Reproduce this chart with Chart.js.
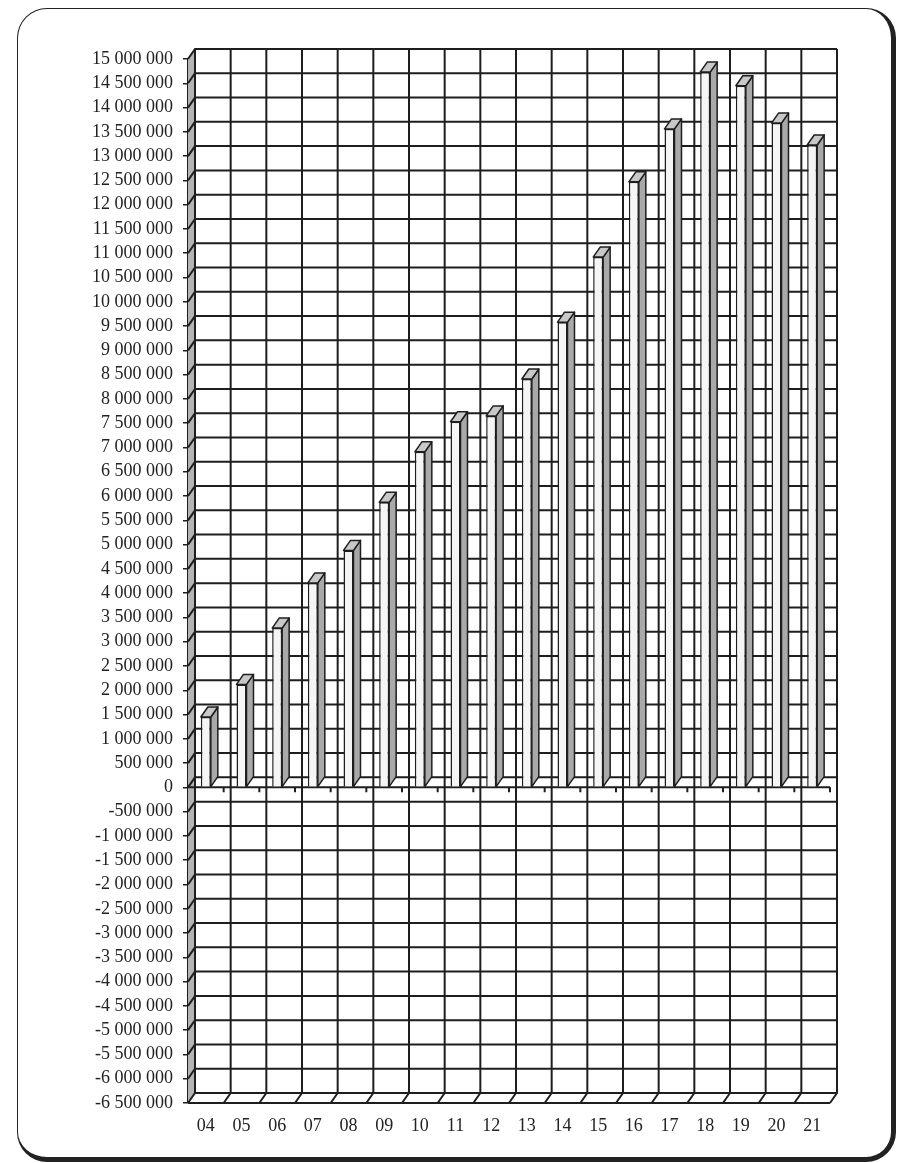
<!DOCTYPE html>
<html>
<head>
<meta charset="utf-8">
<script src="https://cdn.jsdelivr.net/npm/chart.js@4"></script>
<style>
  body { margin: 0; background: #fff; }
  #frame {
    position: absolute; left: 17px; top: 8px; width: 879px; height: 1154px;
    box-sizing: border-box; border: 1px solid #222; border-right-width: 5px; border-bottom-width: 5px;
    border-radius: 30px;
  }
  #chart { position: absolute; left: 0; top: 0; }
</style>
</head>
<body>
<div id="frame"></div>
<canvas id="chart" width="906" height="1163"></canvas>
<script>
const years = ['04', '05', '06', '07', '08', '09', '10', '11', '12', '13', '14', '15', '16', '17', '18', '19', '20', '21'];
const values = [1450000, 2120000, 3280000, 4210000, 4880000, 5870000, 6910000, 7530000, 7650000,
                8410000, 9580000, 10920000, 12470000, 13560000, 14730000, 14450000, 13680000, 13230000];
const yMin = -6500000;
const yMax = 15000000;
const yStep = 500000;

// depth of the fake 3d box
const dx = 7, dy = -10;
const lineCol = '#1e1e1e';

function fmt(v) {
    return String(v).replace(/\B(?=(\d{3})+(?!\d))/g, ' ');
}

const box3d = {
    id: 'box3d',
    beforeDatasetsDraw(chart) {
        const { ctx, chartArea: a, scales: { x, y } } = chart;
        const L = a.left, R = a.right, T = a.top, B = a.bottom;
        ctx.save();
        // left wall
        ctx.fillStyle = '#b4b4b4';
        ctx.beginPath();
        ctx.moveTo(L, T); ctx.lineTo(L + dx, T + dy); ctx.lineTo(L + dx, B + dy); ctx.lineTo(L, B);
        ctx.closePath(); ctx.fill();

        ctx.strokeStyle = lineCol;
        ctx.lineWidth = 2;
        ctx.beginPath();
        // horizontal grid on back wall + diagonals on left wall
        for (let v = yMin; v <= yMax; v += yStep) {
            const py = y.getPixelForValue(v);
            ctx.moveTo(L, py); ctx.lineTo(L + dx, py + dy); ctx.lineTo(R + dx, py + dy);
        }
        // vertical grid on back wall + floor diagonals
        for (let i = 0; i <= years.length; i++) {
            const px = x.getPixelForValue(i - 0.5);
            ctx.moveTo(px + dx, T + dy); ctx.lineTo(px + dx, B + dy); ctx.lineTo(px, B);
        }
        // floor front edge
        ctx.moveTo(L, B); ctx.lineTo(R, B);
        ctx.stroke();

        // zero line in front with little ticks
        const z = y.getPixelForValue(0);
        ctx.beginPath();
        ctx.moveTo(L, z); ctx.lineTo(R, z);
        for (let i = 1; i <= years.length; i++) {
            const px = x.getPixelForValue(i - 0.5);
            ctx.moveTo(px, z); ctx.lineTo(px, z + 5);
        }
        ctx.stroke();
        ctx.restore();
    },
    afterDatasetsDraw(chart) {
        const { ctx } = chart;
        const meta = chart.getDatasetMeta(0);
        ctx.save();
        ctx.strokeStyle = lineCol;
        ctx.lineWidth = 1.5;
        ctx.lineJoin = 'round';
        meta.data.forEach(bar => {
            const p = bar.getProps(['x', 'y', 'base', 'width'], true);
            const l = p.x - p.width / 2, r = p.x + p.width / 2;
            // side
            ctx.fillStyle = '#a9a9a9';
            ctx.beginPath();
            ctx.moveTo(r, p.y); ctx.lineTo(r + dx, p.y + dy); ctx.lineTo(r + dx, p.base + dy); ctx.lineTo(r, p.base);
            ctx.closePath(); ctx.fill(); ctx.stroke();
            // top
            ctx.fillStyle = '#c8c8c8';
            ctx.beginPath();
            ctx.moveTo(l, p.y); ctx.lineTo(l + dx, p.y + dy); ctx.lineTo(r + dx, p.y + dy); ctx.lineTo(r, p.y);
            ctx.closePath(); ctx.fill(); ctx.stroke();
        });
        ctx.restore();
    }
};

new Chart(document.getElementById('chart'), {
    type: 'bar',
    data: {
        labels: years,
        datasets: [{
            data: values,
            backgroundColor: '#f5f5f5',
            borderColor: lineCol,
            borderWidth: 1.5,
            barPercentage: 0.28,
            categoryPercentage: 1
        }]
    },
    options: {
        responsive: false,
        devicePixelRatio: 1,
        animation: false,
        layout: { padding: { top: 59, right: 76, left: 0, bottom: 0 } },
        plugins: { legend: { display: false }, tooltip: { enabled: false } },
        scales: {
            x: {
                afterFit: s => { s.height = 60; },
                grid: { display: false, drawTicks: false },
                border: { display: false },
                ticks: { padding: 12, color: '#222', font: { family: 'Liberation Serif', size: 18 } }
            },
            y: {
                min: yMin,
                max: yMax,
                afterFit: s => { s.width = 188; },
                grid: { drawOnChartArea: false, drawTicks: true, tickLength: 5, color: lineCol, lineWidth: 1.5 },
                border: { display: true, color: lineCol, width: 2 },
                ticks: {
                    stepSize: yStep,
                    autoSkip: false,
                    padding: 10,
                    color: '#222',
                    font: { family: 'Liberation Serif', size: 18 },
                    callback: v => fmt(v)
                }
            }
        }
    },
    plugins: [box3d]
});
</script>
</body>
</html>
